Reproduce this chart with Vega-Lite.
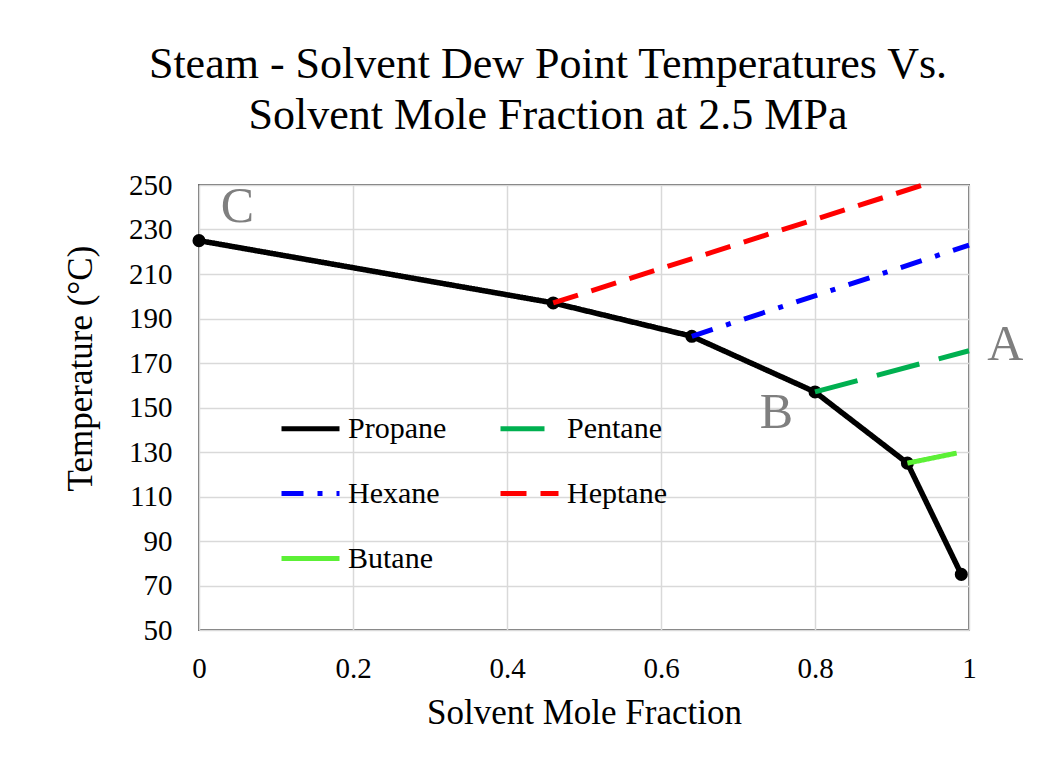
{
  "$schema": "https://vega.github.io/schema/vega-lite/v6.json",
  "autosize": {"type": "none"},
  "width": 770,
  "height": 445,
  "padding": {"left": 199, "top": 185, "right": 95, "bottom": 131},
  "background": "white",
  "title": {
    "text": ["Steam - Solvent Dew Point Temperatures Vs.", "Solvent Mole Fraction at 2.5 MPa"],
    "font": "Liberation Serif",
    "fontSize": 44,
    "fontWeight": "normal",
    "color": "#000000",
    "lineHeight": 51,
    "anchor": "middle",
    "offset": 33,
    "dx": -36
  },
  "config": {
    "view": {"stroke": "#6e6e6e", "strokeWidth": 2},
    "axis": {
      "labelFont": "Liberation Serif",
      "titleFont": "Liberation Serif",
      "labelColor": "#000000",
      "titleColor": "#000000",
      "titleFontWeight": "normal",
      "gridColor": "#d9d9d9",
      "gridWidth": 1.5,
      "ticks": false,
      "domain": false,
      "labelFlush": false
    }
  },
  "datasets": {
    "lines": [
      {"series": "Propane", "x": 0, "y": 225},
      {"series": "Propane", "x": 0.46, "y": 197},
      {"series": "Propane", "x": 0.64, "y": 182},
      {"series": "Propane", "x": 0.8, "y": 157},
      {"series": "Propane", "x": 0.92, "y": 125},
      {"series": "Propane", "x": 0.99, "y": 75},
      {"series": "Heptane", "x": 0.46, "y": 197},
      {"series": "Heptane", "x": 0.94, "y": 250},
      {"series": "Hexane", "x": 0.64, "y": 182},
      {"series": "Hexane", "x": 1, "y": 223},
      {"series": "Pentane", "x": 0.8, "y": 157},
      {"series": "Pentane", "x": 1, "y": 175.5},
      {"series": "Butane", "x": 0.92, "y": 125},
      {"series": "Butane", "x": 0.984, "y": 129.5}
    ],
    "notes": [
      {"label": "C", "x": 0.05, "y": 240},
      {"label": "B", "x": 0.75, "y": 147.5},
      {"label": "A", "x": 1.047, "y": 178}
    ]
  },
  "layer": [
    {
      "data": {"name": "lines"},
      "transform": [{"filter": "datum.series === 'Propane'"}],
      "mark": {"type": "line", "strokeWidth": 5.5, "strokeCap": "round", "strokeJoin": "round"},
      "encoding": {
        "x": {
          "field": "x", "type": "quantitative",
          "scale": {"domain": [0, 1], "nice": false},
          "axis": {"values": [0, 0.2, 0.4, 0.6, 0.8, 1], "title": "Solvent Mole Fraction", "labelFontSize": 29, "titleFontSize": 35, "labelPadding": 24, "titlePadding": 12, "format": "~g"}
        },
        "y": {
          "field": "y", "type": "quantitative",
          "scale": {"domain": [50, 250], "nice": false, "zero": false},
          "axis": {"values": [50, 70, 90, 110, 130, 150, 170, 190, 210, 230, 250], "title": "Temperature (°C)", "labelFontSize": 29, "titleFontSize": 35, "labelPadding": 27, "titleAngle": 270, "titleX": -119, "titleY": 183, "titleAlign": "center", "titleBaseline": "middle"}
        },
        "color": {
          "field": "series", "type": "nominal",
          "scale": {"domain": ["Propane", "Hexane", "Butane", "Pentane", "Heptane"], "range": ["#000000", "#0000FF", "#5CF036", "#00B050", "#FF0000"]},
          "legend": {
            "title": null, "orient": "none", "legendX": 80, "legendY": 212, "columns": 2,
            "symbolType": "stroke", "symbolSize": 3364, "symbolStrokeWidth": 5,
            "labelFont": "Liberation Serif", "labelFontSize": 30, "labelColor": "#000000",
            "labelOffset": 6, "rowPadding": 18, "columnPadding": 43, "padding": 0, "labelLimit": 300
          }
        },
        "strokeDash": {
          "field": "series", "type": "nominal",
          "scale": {"domain": ["Propane", "Hexane", "Butane", "Pentane", "Heptane"], "range": [[1, 0], [22, 14, 5, 14], [1, 0], [44, 20], [26, 14]]},
          "legend": null
        }
      }
    },
    {
      "data": {"name": "lines"},
      "transform": [{"filter": "datum.series === 'Propane'"}],
      "mark": {"type": "point", "filled": true, "size": 170, "opacity": 1, "color": "#000000"},
      "encoding": {
        "x": {"field": "x", "type": "quantitative"},
        "y": {"field": "y", "type": "quantitative"}
      }
    },
    {
      "data": {"name": "lines"},
      "transform": [{"filter": "datum.series !== 'Propane'"}],
      "mark": {"type": "line", "strokeWidth": 5},
      "encoding": {
        "x": {"field": "x", "type": "quantitative"},
        "y": {"field": "y", "type": "quantitative"},
        "color": {"field": "series", "type": "nominal"},
        "strokeDash": {"field": "series", "type": "nominal"}
      }
    },
    {
      "data": {"name": "notes"},
      "mark": {"type": "text", "font": "Liberation Serif", "fontSize": 50, "color": "#7f7f7f", "align": "center", "baseline": "middle"},
      "encoding": {
        "x": {"field": "x", "type": "quantitative"},
        "y": {"field": "y", "type": "quantitative"},
        "text": {"field": "label"}
      }
    }
  ]
}
